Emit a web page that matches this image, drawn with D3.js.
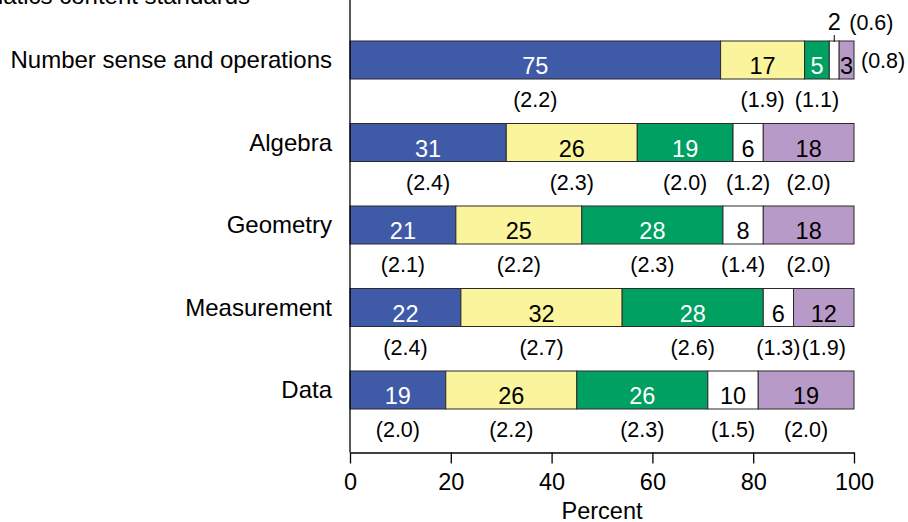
<!DOCTYPE html>
<html>
<head>
<meta charset="utf-8">
<script src="https://cdn.jsdelivr.net/npm/d3@7"></script>
<style>
  html, body { margin: 0; padding: 0; background: #fff; }
  svg { display: block; font-family: "Liberation Sans", Arial, sans-serif; }
</style>
</head>
<body>
<svg id="chart" width="908" height="522"></svg>
<script>
// Mathematics content standards: percentage distribution by level, with standard errors
const categories = ["Number sense and operations", "Algebra", "Geometry", "Measurement", "Data"];
const level1 = [75, 31, 21, 22, 19];
const level2 = [17, 26, 25, 32, 26];
const level3 = [5, 19, 28, 28, 26];
const level4 = [2, 6, 8, 6, 10];
const level5 = [3, 18, 18, 12, 19];
const se1 = [2.2, 2.4, 2.1, 2.4, 2.0];
const se2 = [1.9, 2.3, 2.2, 2.7, 2.2];
const se3 = [1.1, 2.0, 2.3, 2.6, 2.3];
const se4 = [0.6, 1.2, 1.4, 1.3, 1.5];
const se5 = [0.8, 2.0, 2.0, 1.9, 2.0];
const xTicks = [0, 20, 40, 60, 80, 100];

const fills = ["#3f5ba8", "#faf49c", "#00a062", "#ffffff", "#b89ac8"];
const textFills = ["#ffffff", "#000000", "#ffffff", "#000000", "#000000"];

const levels = [level1, level2, level3, level4, level5];
const ses = [se1, se2, se3, se4, se5];

const svg = d3.select("#chart");
const x = d3.scaleLinear().domain([0, 100]).range([350, 854]);
const y = d3.scalePoint().domain(categories).range([60, 390]);
const barH = 38;
const axisY = 452.5;
const fsLabel = 24, fsValue = 23.5, fsSE = 21.5;

// Build stacked segments; each row is scaled to its own total so it spans 0–100
const segments = [];
categories.forEach((cat, i) => {
  const vals = levels.map(l => l[i]);
  const total = d3.sum(vals);
  let cum = 0;
  vals.forEach((v, k) => {
    const x0 = cum / total * 100;
    cum += v;
    const x1 = cum / total * 100;
    segments.push({ cat, row: i, k, value: v, se: ses[k][i], x0, x1, last: k === vals.length - 1 });
  });
});

// Title (partially outside the top edge)
svg.append("text")
  .attr("x", 250).attr("y", 4)
  .attr("text-anchor", "end")
  .attr("font-size", fsLabel)
  .text("Mathematics content standards");

// Category labels
svg.append("g").selectAll("text").data(categories).join("text")
  .attr("x", 332).attr("y", d => y(d) + 8)
  .attr("text-anchor", "end")
  .attr("font-size", fsLabel)
  .text(d => d);

// Bars
svg.append("g").selectAll("rect").data(segments).join("rect")
  .attr("x", d => x(d.x0))
  .attr("y", d => y(d.cat) - barH / 2)
  .attr("width", d => x(d.x1) - x(d.x0))
  .attr("height", barH)
  .attr("fill", d => fills[d.k])
  .attr("stroke", "#2b2b2b")
  .attr("stroke-width", 1);

// Value labels and standard errors
const labels = svg.append("g");
segments.forEach(d => {
  const w = x(d.x1) - x(d.x0);
  const cx = (x(d.x0) + x(d.x1)) / 2;
  const cy = y(d.cat);
  const top = cy - barH / 2;
  if (w < 12) {
    // narrow segment: value above the bar with a leader, SE beside it
    labels.append("line")
      .attr("x1", cx).attr("x2", cx)
      .attr("y1", top - 6).attr("y2", top + 1)
      .attr("stroke", "#000").attr("stroke-width", 1);
    labels.append("text")
      .attr("x", cx).attr("y", top - 11)
      .attr("text-anchor", "middle").attr("font-size", fsValue)
      .text(d.value);
    labels.append("text")
      .attr("x", cx + 15).attr("y", top - 11)
      .attr("font-size", fsSE)
      .text(`(${d.se.toFixed(1)})`);
    return;
  }
  labels.append("text")
    .attr("x", cx).attr("y", cy + 14)
    .attr("text-anchor", "middle").attr("font-size", fsValue)
    .attr("fill", textFills[d.k])
    .text(d.value);
  if (d.last && w < 20) {
    // narrow final segment: SE to the right of the bar
    labels.append("text")
      .attr("x", x(100) + 7).attr("y", cy + 8)
      .attr("font-size", fsSE)
      .text(`(${d.se.toFixed(1)})`);
  } else {
    labels.append("text")
      .attr("x", cx).attr("y", cy + barH / 2 + 28)
      .attr("text-anchor", "middle").attr("font-size", fsSE)
      .text(`(${d.se.toFixed(1)})`);
  }
});

// Axes
svg.append("line")
  .attr("x1", x(0)).attr("x2", x(0))
  .attr("y1", 0).attr("y2", axisY)
  .attr("stroke", "#000").attr("stroke-width", 1.3);

const xAxis = svg.append("g")
  .attr("transform", `translate(0,${axisY})`)
  .call(d3.axisBottom(x).tickValues(xTicks).tickSize(11).tickPadding(10).tickSizeOuter(0));
xAxis.select(".domain").attr("stroke", "#000").attr("stroke-width", 1.3);
xAxis.selectAll(".tick line").attr("stroke", "#000").attr("stroke-width", 1.3);
xAxis.selectAll(".tick text")
  .attr("font-size", fsValue).attr("font-family", "Liberation Sans, Arial, sans-serif").attr("fill", "#000");

svg.append("text")
  .attr("x", x(50)).attr("y", 519)
  .attr("text-anchor", "middle").attr("font-size", fsValue)
  .text("Percent");
</script>
</body>
</html>
